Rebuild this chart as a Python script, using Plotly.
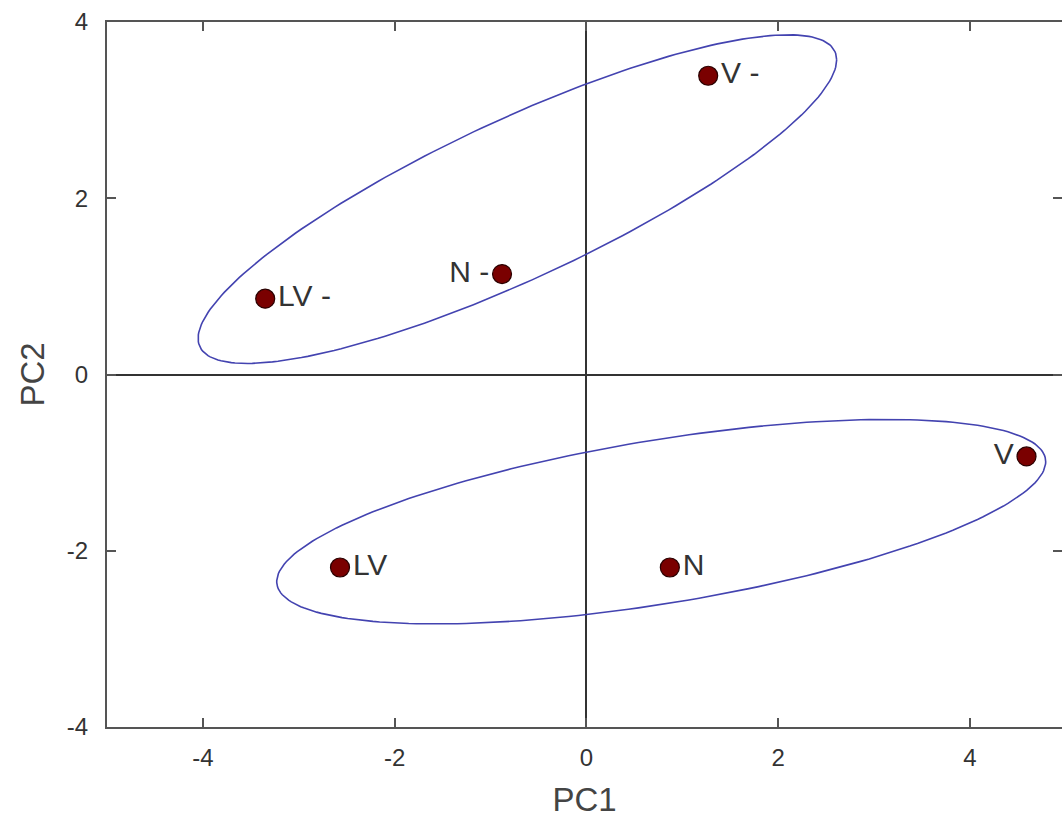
import numpy as np
import plotly.graph_objects as go

# Scores on the first two principal components
labels = ["V -", "N -", "LV -", "LV", "N", "V"]
pc1 = [1.27, -0.88, -3.35, -2.57, 0.87, 4.59]
pc2 = [3.39, 1.14, 0.86, -2.19, -2.19, -0.93]
label_side = ["middle right", "middle left", "middle right", "middle right", "middle right", "middle left"]

# Group ellipses: centre, conjugate semi-diameter (ux, uy) and vertical semi-diameter vy
ellipse_upper = dict(cx=-0.72, cy=1.99, ux=3.33, uy=1.58, vy=0.99)
ellipse_lower = dict(cx=0.78, cy=-1.67, ux=4.01, uy=0.68, vy=0.94)

x_ticks = [-4, -2, 0, 2, 4]
y_ticks = [-4, -2, 0, 2, 4]

FONT = "Arial, Liberation Sans, sans-serif"


def ellipse_path(e, n=240):
    t = np.linspace(0, 2 * np.pi, n)
    x = e["cx"] + e["ux"] * np.cos(t)
    y = e["cy"] + e["uy"] * np.cos(t) + e["vy"] * np.sin(t)
    return x, y


fig = go.Figure()

for e in (ellipse_upper, ellipse_lower):
    ex, ey = ellipse_path(e)
    fig.add_trace(go.Scatter(
        x=ex, y=ey, mode="lines",
        line=dict(color="#4343b0", width=1.6),
        hoverinfo="skip", showlegend=False,
    ))

fig.add_trace(go.Scatter(
    x=pc1, y=pc2, mode="markers+text",
    text=labels, textposition=label_side,
    textfont=dict(family=FONT, size=30, color="#333333"),
    marker=dict(size=19, color="#7a0000", line=dict(color="#2a0000", width=1.2)),
    showlegend=False,
))

# invisible trace to carry the mirrored right-hand ticks
fig.add_trace(go.Scatter(x=[0], y=[0], yaxis="y2", mode="markers",
                         marker=dict(opacity=0), hoverinfo="skip", showlegend=False))

fig.update_layout(
    width=1062, height=827,
    margin=dict(l=107, r=0, t=22, b=100),
    paper_bgcolor="white", plot_bgcolor="white",
    font=dict(family=FONT, color="#333333"),
    xaxis=dict(
        range=[-5, 4.96], tickvals=x_ticks, ticktext=[str(v) for v in x_ticks],
        ticks="inside", ticklen=9, tickwidth=2, tickcolor="#555555",
        showline=True, linecolor="#555555", linewidth=2, mirror="ticks",
        showgrid=False, zeroline=True, zerolinecolor="#333333", zerolinewidth=1.6,
        tickfont=dict(family=FONT, size=24, color="#333333"), ticklabelstandoff=8,
        title=dict(text="PC1", font=dict(size=33, color="#444444"), standoff=18),
    ),
    yaxis=dict(
        range=[-4, 4], tickvals=y_ticks, ticktext=[str(v) for v in y_ticks],
        ticks="inside", ticklen=9, tickwidth=2, tickcolor="#555555",
        showline=True, linecolor="#555555", linewidth=2,
        showgrid=False, zeroline=True, zerolinecolor="#333333", zerolinewidth=1.6,
        tickfont=dict(family=FONT, size=24, color="#333333"), ticklabelstandoff=12,
        title=dict(text="PC2", font=dict(size=33, color="#444444"), standoff=12),
    ),
    yaxis2=dict(
        overlaying="y", side="right", matches="y", range=[-4, 4], tickvals=y_ticks,
        ticks="inside", ticklen=9, tickwidth=2, tickcolor="#555555",
        showticklabels=False, showline=False, showgrid=False, zeroline=False,
    ),
)

fig.write_html("out.html")
